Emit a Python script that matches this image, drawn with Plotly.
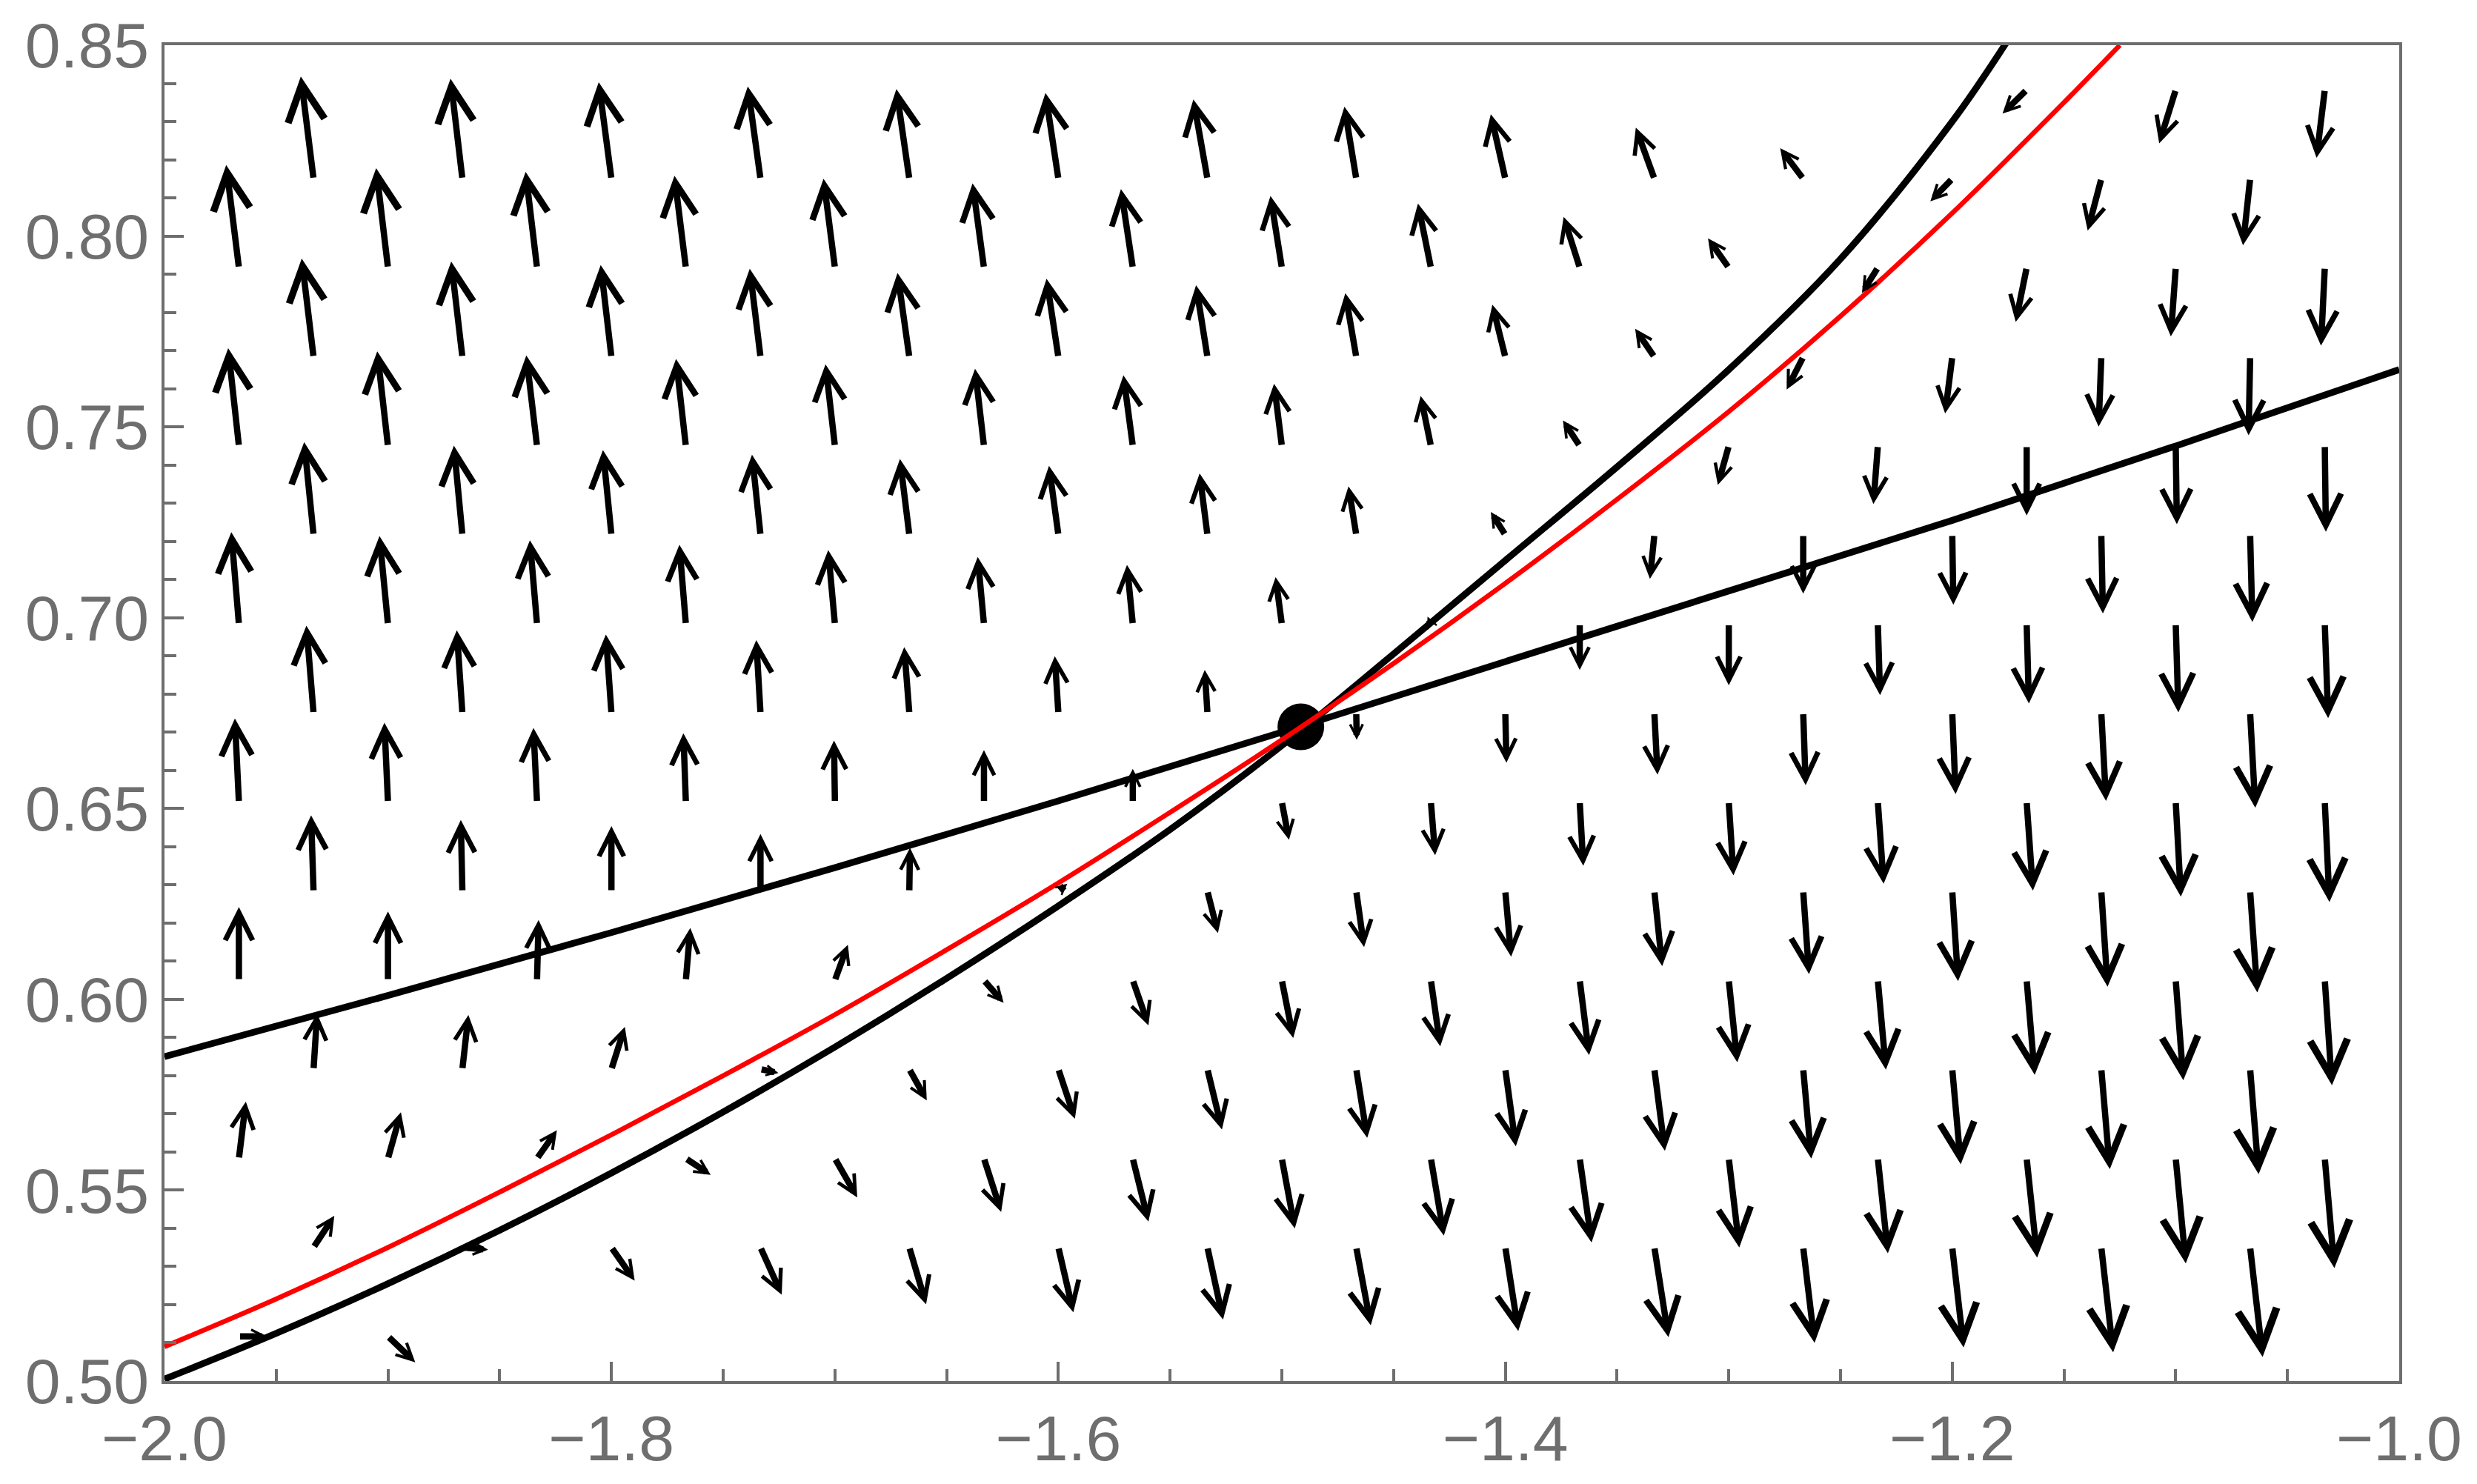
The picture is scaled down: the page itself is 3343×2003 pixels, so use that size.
import math
import plotly.graph_objects as go

# --- arrow grid (staggered rows, arrows start at the grid point) ---
x_even = [-1.9667, -1.9, -1.8333, -1.7667, -1.7, -1.6333, -1.5667, -1.5,
          -1.4333, -1.3667, -1.3, -1.2333, -1.1667, -1.1, -1.0333]
x_odd = [-1.9333, -1.8667, -1.8, -1.7333, -1.6667, -1.6, -1.5333, -1.4667,
         -1.4, -1.3333, -1.2667, -1.2, -1.1333, -1.0667]
row_y = [0.5117, 0.535, 0.5583, 0.5817, 0.605, 0.6283, 0.6517, 0.675,
         0.6983, 0.7217, 0.745, 0.7683, 0.7917, 0.815, 0.8383]

N = None
# horizontal component of each arrow, row by row (None = not drawn)
u_rows = [
    [0.0127, 0.0122, N, N, N, N, N, N, N, N, N, N, N, N, N],
    [0.0093, 0.0115, 0.0104, 0.0095, 0.0075, 0.0067, 0.0070, 0.0065, 0.0058, 0.0063, 0.0051, 0.0051, 0.0053, 0.0056],
    [0.0031, 0.0058, 0.0089, 0.0111, 0.0100, 0.0077, 0.0070, 0.0058, 0.0058, 0.0053, 0.0047, 0.0045, 0.0047, 0.0045, 0.0043],
    [0.0016, 0.0027, 0.0060, 0.0080, 0.0078, 0.0074, 0.0065, 0.0049, 0.0047, 0.0047, 0.0036, 0.0038, 0.0038, 0.0038],
    [0.0, 0.0, 0.0007, 0.0020, 0.0058, 0.0088, 0.0070, 0.0051, 0.0042, 0.0042, 0.0038, 0.0036, 0.0036, 0.0034, 0.0032],
    [-0.0011, -0.0007, 0.0, 0.0, 0.0003, 0.0040, 0.0047, 0.0035, 0.0026, 0.0035, 0.0026, 0.0026, 0.0028, 0.0032],
    [-0.0018, -0.0016, -0.0016, -0.0011, -0.0004, 0.0, 0.0, 0.0032, 0.0019, 0.0016, 0.0021, 0.0026, 0.0028, 0.0023, 0.0021],
    [-0.0032, -0.0025, -0.0025, -0.0019, -0.0023, -0.0016, -0.0012, 0.0002, 0.0005, 0.0014, 0.0011, 0.0015, 0.0021, 0.0023],
    [-0.0034, -0.0038, -0.0032, -0.0029, -0.0030, -0.0028, -0.0026, -0.0028, -0.0015, 0.0, 0.0, 0.0010, 0.0010, 0.0012, 0.0015],
    [-0.0042, -0.0038, -0.0038, -0.0038, -0.0042, -0.0042, -0.0035, -0.0035, -0.0065, -0.0020, 0.0, 0.0005, 0.0007, 0.0010],
    [-0.0048, -0.0048, -0.0048, -0.0044, -0.0042, -0.0040, -0.0042, -0.0035, -0.0046, -0.0075, -0.0049, -0.0020, 0.0, 0.0005, 0.0005],
    [-0.0053, -0.0050, -0.0048, -0.0048, -0.0053, -0.0053, -0.0051, -0.0049, -0.0058, -0.0086, -0.0074, -0.0032, -0.0012, -0.0007],
    [-0.0057, -0.0053, -0.0051, -0.0051, -0.0051, -0.0051, -0.0053, -0.0051, -0.0058, -0.0072, -0.0093, -0.0071, -0.0049, -0.0022, -0.0017],
    [-0.0057, -0.0053, -0.0057, -0.0057, -0.0058, -0.0058, -0.0063, -0.0053, -0.0065, -0.0083, -0.0103, -0.0098, -0.0061, -0.0032],
    [N, N, N, N, N, N, N, N, N, N, N, N, -0.0108, -0.0074, -0.0037],
]
# vertical component
v_rows = [
    [0.0, -0.0068, N, N, N, N, N, N, N, N, N, N, N, N, N],
    [0.0083, -0.0006, -0.0087, -0.0124, -0.0149, -0.0170, -0.0189, -0.0204, -0.0219, -0.0235, -0.0250, -0.0262, -0.0275, -0.0287],
    [0.0149, 0.0121, 0.0074, -0.0043, -0.0102, -0.0140, -0.0165, -0.0183, -0.0202, -0.0220, -0.0233, -0.0248, -0.0260, -0.0275, -0.0287],
    [0.0146, 0.0142, 0.0111, -0.0010, -0.0082, -0.0130, -0.0158, -0.0180, -0.0202, -0.0214, -0.0234, -0.0249, -0.0262, -0.0275],
    [0.0192, 0.0180, 0.0158, 0.0137, 0.0093, -0.0059, -0.0118, -0.0151, -0.0173, -0.0196, -0.0215, -0.0234, -0.0248, -0.0262, -0.0275],
    [0.0199, 0.0187, 0.0171, 0.0150, 0.0114, 0.0020, -0.0109, -0.0146, -0.0171, -0.0196, -0.0217, -0.0235, -0.0250, -0.0265],
    [0.0219, 0.0208, 0.0194, 0.0180, 0.0161, 0.0136, 0.0087, -0.0099, -0.0139, -0.0167, -0.0192, -0.0214, -0.0232, -0.0248, -0.0262],
    [0.0229, 0.0217, 0.0206, 0.0191, 0.0173, 0.0149, 0.0113, -0.0070, -0.0130, -0.0161, -0.0189, -0.0212, -0.0230, -0.0248],
    [0.0241, 0.0231, 0.0220, 0.0208, 0.0194, 0.0176, 0.0155, 0.0123, 0.0020, -0.0120, -0.0160, -0.0186, -0.0208, -0.0231, -0.0246],
    [0.0243, 0.0234, 0.0222, 0.0210, 0.0199, 0.0181, 0.0161, 0.0127, 0.0060, -0.0115, -0.0154, -0.0183, -0.0206, -0.0228],
    [0.0256, 0.0248, 0.0237, 0.0228, 0.0214, 0.0202, 0.0185, 0.0163, 0.0131, 0.0067, -0.0102, -0.0152, -0.0182, -0.0205, -0.0225],
    [0.0258, 0.0250, 0.0241, 0.0231, 0.0220, 0.0205, 0.0188, 0.0167, 0.0137, 0.0074, -0.0085, -0.0148, -0.0182, -0.0205],
    [0.0269, 0.0261, 0.0251, 0.0241, 0.0233, 0.0221, 0.0206, 0.0188, 0.0168, 0.0133, 0.0077, -0.0066, -0.0142, -0.0180, -0.0204],
    [0.0268, 0.0262, 0.0253, 0.0242, 0.0235, 0.0225, 0.0208, 0.0189, 0.0169, 0.0134, 0.0080, -0.0059, -0.0136, -0.0174],
    [N, N, N, N, N, N, N, N, N, N, N, N, -0.0062, -0.0140, -0.0178],
]

# --- curves ---
steep_x = [-2.0, -1.95, -1.9, -1.85, -1.8, -1.75, -1.7, -1.65, -1.6, -1.55, -1.5,
           -1.45, -1.4, -1.35, -1.3, -1.25, -1.2, -1.176]
steep_y = [0.5005, 0.5125, 0.5255, 0.5395, 0.5545, 0.5705, 0.5875, 0.6055, 0.6245,
           0.6445, 0.6665, 0.6905, 0.7150, 0.7395, 0.7650, 0.7940, 0.8300, 0.8505]

flat_x = [-2.0, -1.9, -1.8, -1.7, -1.6, -1.5, -1.4, -1.3, -1.2, -1.1, -1.0]
flat_y = [0.585, 0.601, 0.6175, 0.6345, 0.652, 0.670, 0.6885, 0.707, 0.7255, 0.745, 0.765]

red_x = [-2.0, -1.95, -1.9, -1.85, -1.8, -1.75, -1.7, -1.65, -1.6, -1.55, -1.5,
         -1.45, -1.4, -1.35, -1.3, -1.25, -1.2, -1.15, -1.125]
red_y = [0.509, 0.5215, 0.5350, 0.5495, 0.5645, 0.5800, 0.5960, 0.6130, 0.6305,
         0.6490, 0.6680, 0.6880, 0.7090, 0.7310, 0.7540, 0.7790, 0.8060, 0.8350, 0.8500]

fixed_x = [-1.4915]
fixed_y = [0.6714]

# --- layout numbers ---
W, H = 3343, 2003
ML, MR, MT, MB = 222, 105, 61, 139
XR = [-2.0, -1.0]
YR = [0.50, 0.85]
GRAY = "#6e6e6e"
FONT = "Liberation Sans, Arial, sans-serif"
AW = 8.5  # arrow shaft width

px_x = (W - ML - MR) / (XR[1] - XR[0])
px_y = (H - MT - MB) / (YR[1] - YR[0])

fig = go.Figure()

fig.add_trace(go.Scatter(x=flat_x, y=flat_y, mode="lines", line=dict(color="black", width=9, shape="spline"),
                         hoverinfo="skip", showlegend=False))
fig.add_trace(go.Scatter(x=steep_x, y=steep_y, mode="lines", line=dict(color="black", width=9, shape="spline"),
                         hoverinfo="skip", showlegend=False))
fig.add_trace(go.Scatter(x=fixed_x, y=fixed_y, mode="markers", marker=dict(color="black", size=63),
                         hoverinfo="skip", showlegend=False))
fig.add_trace(go.Scatter(x=red_x, y=red_y, mode="lines", line=dict(color="#ff0000", width=6.5, shape="spline"),
                         hoverinfo="skip", showlegend=False))

# arrowheads grow with the arrow, as in Mathematica's VectorPlot
arrows = []
for j, y0 in enumerate(row_y):
    xs = x_even if j % 2 == 0 else x_odd
    for x0, u, v in zip(xs, u_rows[j], v_rows[j]):
        if u is None:
            continue
        L = math.hypot(u * px_x, v * px_y)
        head = 0.32 * L + 6
        arrows.append(dict(
            x=x0 + u, y=y0 + v, ax=x0, ay=y0,
            xref="x", yref="y", axref="x", ayref="y",
            text="", showarrow=True, arrowhead=5, arrowwidth=AW,
            arrowsize=max(0.3, head / (5.2 * AW)), arrowcolor="black", standoff=0,
        ))

axis_style = dict(
    showline=True, linecolor=GRAY, linewidth=3.5, mirror=True,
    ticks="inside", ticklen=26, tickwidth=3.5, tickcolor=GRAY,
    showgrid=False, zeroline=False,
    tickfont=dict(family=FONT, size=86, color=GRAY),
)
fig.update_xaxes(range=XR, tick0=-2.0, dtick=0.2, tickformat=".1f",
                 minor=dict(dtick=0.05, ticks="inside", ticklen=16, tickwidth=3.5, tickcolor=GRAY, showgrid=False),
                 **axis_style)
fig.update_yaxes(range=YR, tick0=0.5, dtick=0.05, tickformat=".2f",
                 minor=dict(dtick=0.01, ticks="inside", ticklen=16, tickwidth=3.5, tickcolor=GRAY, showgrid=False),
                 **axis_style)

fig.update_layout(
    width=W, height=H, autosize=False,
    margin=dict(l=ML, r=MR, t=MT, b=MB, pad=0),
    plot_bgcolor="white", paper_bgcolor="white",
    annotations=arrows,
    showlegend=False,
)

fig.write_html("out.html", config={"displayModeBar": False},
               post_script="document.body.style.margin='0';")
